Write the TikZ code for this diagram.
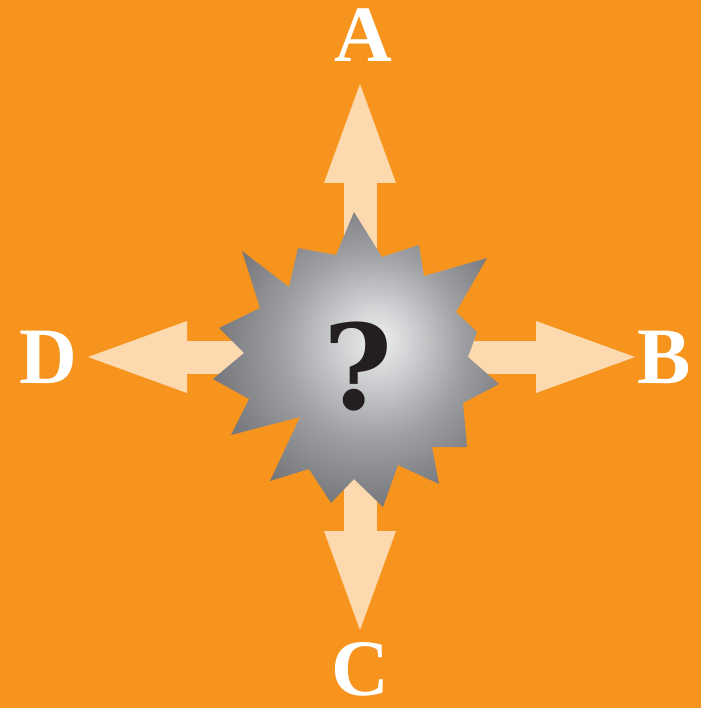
\documentclass[tikz,border=0pt]{standalone}
\usepackage{fontspec}
\setmainfont{Liberation Serif}
\newfontfamily\qfont{DejaVu Serif}
\usetikzlibrary{arrows.meta,positioning}
\definecolor{bgorange}{RGB}{247,148,30}
\definecolor{peach}{RGB}{253,217,175}
\definecolor{inkblack}{RGB}{35,31,32}
\definecolor{burstA}{RGB}{236,237,238}
\definecolor{burstB}{RGB}{214,215,217}
\definecolor{burstC}{RGB}{158,159,162}
\definecolor{burstD}{RGB}{114,115,119}
\definecolor{burstE}{RGB}{90,91,95}
\definecolor{burstF}{RGB}{80,81,85}
\pgfdeclareradialshading{burst}{\pgfpoint{4bp}{3.5bp}}{color(0bp)=(burstA); color(5bp)=(burstB); color(16bp)=(burstC); color(28bp)=(burstD); color(40bp)=(burstE); color(50bp)=(burstF)}

\begin{document}
\begin{tikzpicture}[x=1pt,y=-1pt,
  letter/.style={text=white,inner sep=0pt,font=\fontsize{80}{80}\selectfont\bfseries},
  bigarrow/.style={peach,line width=33pt,-{Triangle[length=99pt,width=72pt,line width=0pt]}}]
\fill[bgorange] (0,0) rectangle (701,708);
\useasboundingbox (0,0) rectangle (701,708);
\coordinate (hub) at (360,357);
\coordinate (tipA) at (360,84);
\coordinate (tipB) at (635,357);
\coordinate (tipC) at (360,630);
\coordinate (tipD) at (88,357);
% four ways out
\draw[bigarrow] (hub) -- (tipA);
\draw[bigarrow] (hub) -- (tipB);
\draw[bigarrow] (hub) -- (tipC);
\draw[bigarrow] (hub) -- (tipD);
% the star in the middle
\shade[shading=burst] (354,212) -- (382,257) -- (419,245) -- (424,276) -- (487,258) -- (456,312)
  -- (477,332) -- (468,357) -- (499,384) -- (463,403) -- (467,447) -- (432,447)
  -- (439,484) -- (398,465) -- (383,507) -- (354,479) -- (331,503) -- (309,469)
  -- (270,481) -- (300,417) -- (231,435) -- (249,399) -- (213,379) -- (244,353)
  -- (219,328) -- (260,308) -- (242,251) -- (289,287) -- (298,248) -- (336,255) -- cycle;
\node[text=inkblack,inner sep=0pt,font=\fontsize{118}{118}\selectfont\qfont\bfseries] (q) at (358,367) {?};
\node[letter,above=22pt of tipA,xshift=3pt] (A) {A};
\node[letter,right=2pt of tipB] (B) {B};
\node[letter,below=12pt of tipC] (C) {C};
\node[letter,left=11pt of tipD] (D) {D};
\end{tikzpicture}
\end{document}
